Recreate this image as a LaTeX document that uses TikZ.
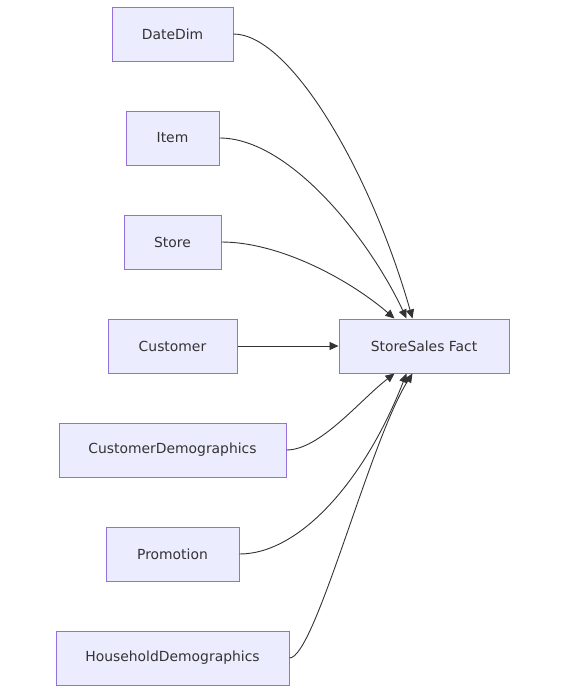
\documentclass[tikz,border=0pt]{standalone}
\usepackage{fontspec}
\setmainfont{DejaVu Sans}
\usetikzlibrary{arrows.meta}
\definecolor{boxfill}{HTML}{ECECFF}
\definecolor{boxline}{HTML}{9370DB}
\definecolor{ink}{HTML}{333333}
\begin{document}
\begin{tikzpicture}[
            x=1pt, y=-1pt,
            table/.style={draw=boxline, fill=boxfill, line width=1pt, rectangle, minimum height=54pt, inner xsep=0pt, text=ink, font=\fontsize{13.9}{16}\selectfont},
            link/.style={draw=ink, line width=0.9pt, -{Triangle[length=9pt,width=8pt]}}
        ]
        \useasboundingbox (0,0) rectangle (579,694);

        % dimension tables
        \node[table, minimum width=121pt] (datedim) at (172.5,34) {DateDim};
        \node[table, minimum width=93pt] (item) at (172.5,138) {Item};
        \node[table, minimum width=97pt] (store) at (172.5,242) {Store};
        \node[table, minimum width=129pt] (customer) at (172.5,346) {Customer};
        \node[table, minimum width=227pt] (custdemo) at (172.5,450) {CustomerDemographics};
        \node[table, minimum width=133pt] (promotion) at (172.5,554) {Promotion};
        \node[table, minimum width=233pt] (hhdemo) at (172.5,658) {HouseholdDemographics};

        % fact table
        \node[table, minimum width=170pt] (fact) at (424,346) {StoreSales Fact};

        \coordinate (top1) at ([xshift=74pt]fact.north west);
        \coordinate (top2) at ([xshift=68pt]fact.north west);
        \coordinate (top3) at ([xshift=56pt]fact.north west);
        \coordinate (bot1) at ([xshift=56pt]fact.south west);
        \coordinate (bot2) at ([xshift=68pt]fact.south west);
        \coordinate (bot3) at ([xshift=74pt]fact.south west);

        \draw[link] (datedim.east) .. controls (290,34) and (370,170) .. (top1);
        \draw[link] (item.east) .. controls (290,138) and (370,240) .. (top2);
        \draw[link] (store.east) .. controls (280,242) and (350,280) .. (top3);
        \draw[link] (customer.east) -- (fact.west);
        \draw[link] (custdemo.east) .. controls (320,450) and (360,400) .. (bot1);
        \draw[link] (promotion.east) .. controls (300,554) and (365,480) .. (bot2);
        \draw[link] (hhdemo.east) .. controls (315,658) and (370,440) .. (bot3);

        \end{tikzpicture}
\end{document}
